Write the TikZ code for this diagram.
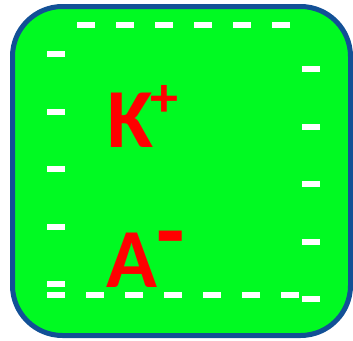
\documentclass[tikz,border=0pt]{standalone}
\usepackage{fontspec}
\setmainfont{Carlito}
\definecolor{cellgreen}{RGB}{0,250,34}
\definecolor{cellblue}{RGB}{18,80,150}
\definecolor{ionred}{RGB}{255,0,0}
\tikzset{
  dashmark/.style={fill=white, draw=none},
  ion/.style={text=ionred, font=\bfseries\fontsize{84}{84}\selectfont, inner sep=0pt, anchor=base},
  charge/.style={text=ionred, font=\bfseries\fontsize{56}{56}\selectfont, inner sep=0pt, anchor=center}
}
\begin{document}
\begin{tikzpicture}[x=1pt,y=-1pt]
\useasboundingbox (0,0) rectangle (353,340);
\draw[fill=cellgreen, draw=cellblue, line width=5pt, rounded corners=50pt] (12.5,6.5) rectangle (350.5,335.5);
% top row
\foreach \k in {0,...,5} {\fill[dashmark] ({77+39*\k},22) rectangle ++(18,6);}
% bottom row
\foreach \k in {0,...,6} {\fill[dashmark] ({47+39*\k},292) rectangle ++(18,6);}
% left column
\foreach \k in {0,...,4} {\fill[dashmark] (47,{51+57.5*\k}) rectangle ++(18,6);}
% right column
\foreach \k in {0,...,4} {\fill[dashmark] (302,{66+57.5*\k}) rectangle ++(18,6);}
\node[ion] (k) at (130,147) {K};
\node[charge] (kp) at (164.5,100.5) {+};
\node[ion] (a) at (131.5,287) {A};
\node[charge, font=\bfseries\fontsize{62}{62}\selectfont, xscale=1.5, yscale=1.6] (am) at (171,247.5) {-};
\end{tikzpicture}
\end{document}
